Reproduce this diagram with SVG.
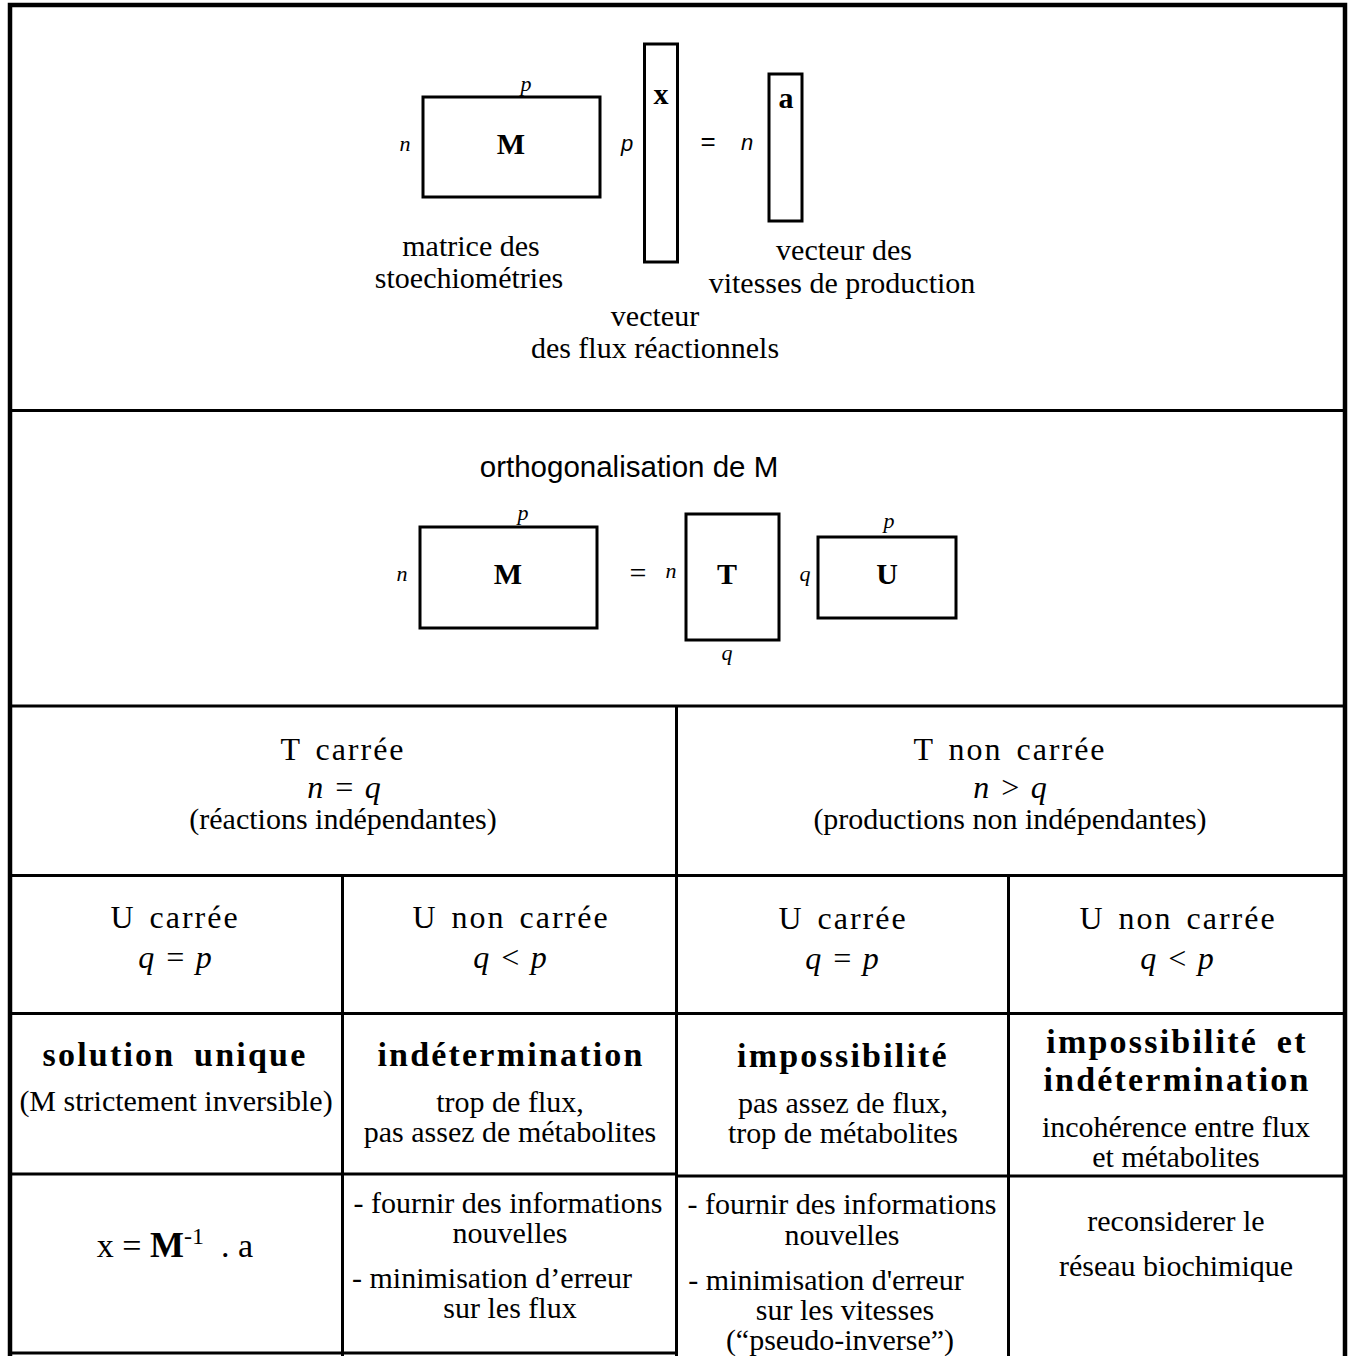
<svg xmlns="http://www.w3.org/2000/svg" width="1353" height="1356" viewBox="0 0 1353 1356">
  <style>
    .serif { font-family: "Liberation Serif", "Times New Roman", serif; fill: #000; }
    .sans { font-family: "Liberation Sans", Arial, sans-serif; fill: #000; }
    .body { font-size: 30px; }
    .cap { font-size: 32px; letter-spacing: 2px; word-spacing: 4px; }
    .cond { font-size: 32px; font-style: italic; word-spacing: 2px; }
    .head { font-size: 34px; font-weight: bold; letter-spacing: 2.2px; }
    .dim { font-size: 22px; font-style: italic; }
    .mat { font-size: 30px; font-weight: bold; }
    .box { fill: none; stroke: #000; stroke-width: 3; }
    .rule { stroke: #000; stroke-width: 3; fill: none; }
    .frame { stroke: #000; stroke-width: 4.5; fill: none; }
  </style>

  <rect width="1353" height="1356" fill="#fff"/>

  <!-- table frame and cell separators -->
  <g id="grid">
    <path class="frame" d="M10,1356 V5 H1345 V1356"/>
    <path class="rule" d="M10,410.5 H1345 M10,706 H1345 M10,875.5 H1345 M10,1013.5 H1345 M10,1174 H677 M677,1176 H1345 M8,1353 H677"/>
    <path class="rule" d="M676.5,706 V1356 M342.5,875.5 V1356 M1008.5,875.5 V1356"/>
  </g>

  <!-- product M . x = a -->
  <g id="equation">
    <g id="matrix-M">
      <rect class="box" x="423" y="97" width="177" height="100"/>
      <text class="serif dim" x="526" y="91" text-anchor="middle">p</text>
      <text class="serif dim" x="405" y="151" text-anchor="middle">n</text>
      <text class="serif mat" x="511" y="154" text-anchor="middle">M</text>
      <text class="serif body" x="471" y="256" text-anchor="middle">matrice des</text>
      <text class="serif body" x="469" y="288" text-anchor="middle">stoechiométries</text>
    </g>
    <g id="vector-x">
      <rect class="box" x="644.5" y="44" width="33" height="218"/>
      <text class="sans dim" x="627" y="151" text-anchor="middle">p</text>
      <text class="serif mat" x="661" y="104" text-anchor="middle">x</text>
      <text class="serif body" x="655" y="326" text-anchor="middle">vecteur</text>
      <text class="serif body" x="655" y="358" text-anchor="middle">des flux réactionnels</text>
    </g>
    <text class="sans" x="708" y="150" font-size="26" text-anchor="middle">=</text>
    <g id="vector-a">
      <rect class="box" x="769" y="74" width="33" height="147"/>
      <text class="sans dim" x="747" y="150" text-anchor="middle">n</text>
      <text class="serif mat" x="786" y="108" text-anchor="middle">a</text>
      <text class="serif body" x="844" y="260" text-anchor="middle">vecteur des</text>
      <text class="serif body" x="842" y="293" text-anchor="middle">vitesses de production</text>
    </g>
  </g>

  <!-- factorisation M = T . U -->
  <g id="orthogonalisation">
    <text class="sans" x="629" y="477" font-size="29.5" text-anchor="middle">orthogonalisation de M</text>
    <g id="matrix-M2">
      <rect class="box" x="420" y="527" width="177" height="101"/>
      <text class="serif dim" x="523" y="520" text-anchor="middle">p</text>
      <text class="serif dim" x="402" y="581" text-anchor="middle">n</text>
      <text class="serif mat" x="508" y="584" text-anchor="middle">M</text>
    </g>
    <text class="serif" x="638" y="583" font-size="30" text-anchor="middle">=</text>
    <g id="matrix-T">
      <rect class="box" x="686" y="514" width="93" height="126"/>
      <text class="serif dim" x="671" y="578" text-anchor="middle">n</text>
      <text class="serif dim" x="727" y="660" text-anchor="middle">q</text>
      <text class="serif mat" x="727" y="584" text-anchor="middle">T</text>
    </g>
    <g id="matrix-U">
      <rect class="box" x="818" y="537" width="138" height="81"/>
      <text class="serif dim" x="889" y="528" text-anchor="middle">p</text>
      <text class="serif dim" x="805" y="581" text-anchor="middle">q</text>
      <text class="serif mat" x="887" y="584" text-anchor="middle">U</text>
    </g>
  </g>

  <!-- first split: shape of T -->
  <g id="T-square">
    <text class="serif cap" x="343" y="760" text-anchor="middle">T carrée</text>
    <text class="serif cond" x="344" y="798" text-anchor="middle">n = q</text>
    <text class="serif body" x="343" y="829" text-anchor="middle">(réactions indépendantes)</text>
  </g>
  <g id="T-nonsquare">
    <text class="serif cap" x="1010" y="760" text-anchor="middle">T non carrée</text>
    <text class="serif cond" x="1010" y="798" text-anchor="middle">n &gt; q</text>
    <text class="serif body" x="1010" y="829" text-anchor="middle">(productions non indépendantes)</text>
  </g>

  <!-- second split: shape of U -->
  <g id="U-square-1">
    <text class="serif cap" x="175" y="928" text-anchor="middle">U carrée</text>
    <text class="serif cond" x="175" y="968" text-anchor="middle">q = p</text>
  </g>
  <g id="U-nonsquare-1">
    <text class="serif cap" x="511" y="928" text-anchor="middle">U non carrée</text>
    <text class="serif cond" x="510" y="968" text-anchor="middle">q &lt; p</text>
  </g>
  <g id="U-square-2">
    <text class="serif cap" x="843" y="929" text-anchor="middle">U carrée</text>
    <text class="serif cond" x="842" y="969" text-anchor="middle">q = p</text>
  </g>
  <g id="U-nonsquare-2">
    <text class="serif cap" x="1178" y="929" text-anchor="middle">U non carrée</text>
    <text class="serif cond" x="1177" y="969" text-anchor="middle">q &lt; p</text>
  </g>

  <!-- diagnosis row -->
  <g id="case-unique">
    <text class="serif head" x="175" y="1066" text-anchor="middle" word-spacing="8">solution unique</text>
    <text class="serif body" x="176" y="1111" text-anchor="middle">(M strictement inversible)</text>
  </g>
  <g id="case-indetermination">
    <text class="serif head" x="511" y="1066" text-anchor="middle">indétermination</text>
    <text class="serif body" x="510" y="1112" text-anchor="middle">trop de flux,</text>
    <text class="serif body" x="510" y="1142" text-anchor="middle">pas assez de métabolites</text>
  </g>
  <g id="case-impossibility">
    <text class="serif head" x="843" y="1067" text-anchor="middle">impossibilité</text>
    <text class="serif body" x="843" y="1113" text-anchor="middle">pas assez de flux,</text>
    <text class="serif body" x="843" y="1143" text-anchor="middle">trop de métabolites</text>
  </g>
  <g id="case-both">
    <text class="serif head" x="1177" y="1053" text-anchor="middle" word-spacing="8">impossibilité et</text>
    <text class="serif head" x="1177" y="1091" text-anchor="middle">indétermination</text>
    <text class="serif body" x="1176" y="1137" text-anchor="middle">incohérence entre flux</text>
    <text class="serif body" x="1176" y="1167" text-anchor="middle">et métabolites</text>
  </g>

  <!-- remedy row -->
  <g id="remedy-unique">
    <text class="serif" x="175" y="1257" font-size="34" text-anchor="middle">x = <tspan font-weight="bold" font-size="36">M</tspan><tspan font-size="24" dy="-13">-1</tspan><tspan dy="13" xml:space="preserve">  . a</tspan></text>
  </g>
  <g id="remedy-indetermination">
    <text class="serif body" x="508" y="1213" text-anchor="middle">- fournir des informations</text>
    <text class="serif body" x="510" y="1243" text-anchor="middle">nouvelles</text>
    <text class="serif body" x="492" y="1288" text-anchor="middle">- minimisation d’erreur</text>
    <text class="serif body" x="510" y="1318" text-anchor="middle">sur les flux</text>
  </g>
  <g id="remedy-impossibility">
    <text class="serif body" x="842" y="1214" text-anchor="middle">- fournir des informations</text>
    <text class="serif body" x="842" y="1245" text-anchor="middle">nouvelles</text>
    <text class="serif body" x="826" y="1290" text-anchor="middle">- minimisation d'erreur</text>
    <text class="serif body" x="845" y="1320" text-anchor="middle">sur les vitesses</text>
    <text class="serif body" x="840" y="1350" text-anchor="middle">(“pseudo-inverse”)</text>
  </g>
  <g id="remedy-both">
    <text class="serif body" x="1176" y="1231" text-anchor="middle">reconsiderer le</text>
    <text class="serif body" x="1176" y="1276" text-anchor="middle">réseau biochimique</text>
  </g>
</svg>
